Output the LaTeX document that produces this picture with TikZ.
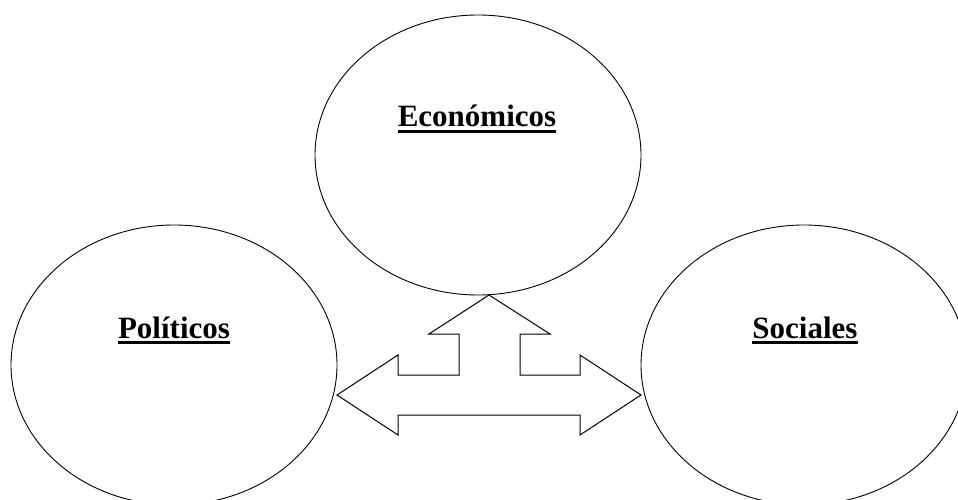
\documentclass[tikz,border=0pt]{standalone}
\usepackage{fontspec}
\setmainfont{Liberation Serif}
\usetikzlibrary{shapes.geometric}
\newcommand{\subrayado}[1]{\vtop{\hbox{#1}\kern3pt\hrule height 3pt}}
\begin{document}
\begin{tikzpicture}[x=1pt,y=-1pt,
	circulo/.style={draw, ellipse, line width=0.9pt, minimum width=326pt, minimum height=280pt, inner sep=0pt},
	titulo/.style={font=\fontsize{31}{31}\selectfont\bfseries, inner sep=0pt, anchor=base}]
		\clip (0,0) rectangle (958,500);

		\node[circulo] (eco) at (478,155) {};
		\node[titulo] (teco) at (477,127) {\subrayado{Económicos}};

		\node[circulo] (pol) at (174,365) {};
		\node[titulo] (tpol) at (174,338) {\subrayado{Políticos}};

		\node[circulo] (soc) at (804,365) {};
		\node[titulo] (tsoc) at (805,338) {\subrayado{Sociales}};

		% flecha de tres puntas
		\draw[line width=1pt, line join=miter] (489,295) -- (550,334) -- (520,334) -- (520,375)
			-- (580,375) -- (580,355) -- (641,395) -- (580,435) -- (580,415)
			-- (398,415) -- (398,435) -- (337,395) -- (398,355) -- (398,375)
			-- (459,375) -- (459,334) -- (429,334) -- cycle;
	\end{tikzpicture}
\end{document}
